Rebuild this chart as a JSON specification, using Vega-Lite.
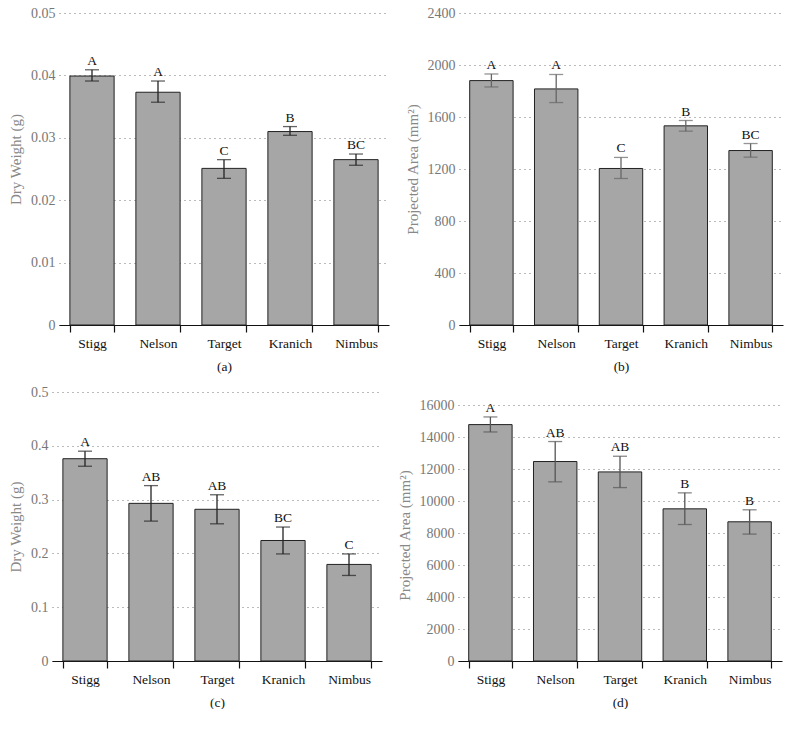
{
  "$schema": "https://vega.github.io/schema/vega-lite/v6.json",
  "padding": {"left": 7, "top": 6, "right": 8, "bottom": 0},
  "columns": 1,
  "align": "none",
  "spacing": 12,
  "config": {
    "view": {"stroke": null},
    "font": "Liberation Serif",
    "text": {"font": "Liberation Serif"},
    "axisY": {
      "domain": false, "ticks": false, "grid": true, "gridDash": [1, 4], "gridColor": "#777", "gridWidth": 1,
      "labelFont": "Liberation Serif", "labelFontSize": 14, "labelColor": "#777", "labelPadding": 4, "labelOverlap": false, "tickCount": 20,
      "titleFont": "Liberation Serif", "titleFontSize": 15, "titleColor": "#888", "titleFontWeight": "normal", "titlePadding": 7
    },
    "axisX": {
      "domainColor": "#111", "domainWidth": 1.2, "tickColor": "#111", "tickWidth": 1.2, "tickSize": 7, "tickBand": "extent",
      "labelFont": "Liberation Serif", "labelFontSize": 13.5, "labelColor": "#111", "labelPadding": 4, "labelAngle": 0,
      "titleFont": "Liberation Serif", "titleFontSize": 13.5, "titleColor": "#111", "titleFontWeight": "normal", "titlePadding": 10,
      "grid": false
    }
  },
  "concat": [
    {
      "spacing": 0,
      "hconcat": [
        {"width": 1, "height": 1, "data": {"values": []}, "mark": "point"},
        {
          "spacing": 16,
          "hconcat": [
            {
              "width": 330, "height": 312,
              "data": {"values": [
                {"cultivar": "Stigg", "mean": 0.0399, "lo": 0.0391, "hi": 0.0409, "letter": "A"},
                {"cultivar": "Nelson", "mean": 0.0373, "lo": 0.0357, "hi": 0.0391, "letter": "A"},
                {"cultivar": "Target", "mean": 0.0251, "lo": 0.0235, "hi": 0.0265, "letter": "C"},
                {"cultivar": "Kranich", "mean": 0.0310, "lo": 0.0304, "hi": 0.0318, "letter": "B"},
                {"cultivar": "Nimbus", "mean": 0.0265, "lo": 0.0256, "hi": 0.0274, "letter": "BC"}
              ]},
              "encoding": {"x": {"field": "cultivar", "type": "nominal", "sort": null,
                "scale": {"paddingInner": 0.33, "paddingOuter": 0.165}, "axis": {"title": "(a)"}}},
              "layer": [
                {"mark": {"type": "bar", "fill": "#a6a6a6", "stroke": "#222", "strokeWidth": 1},
                 "encoding": {"y": {"field": "mean", "type": "quantitative", "scale": {"domain": [0, 0.05]},
                   "axis": {"title": "Dry Weight (g)", "titleY": 146, "values": [0, 0.01, 0.02, 0.03, 0.04, 0.05], "format": "~g"}}}},
                {"mark": {"type": "rule", "color": "#222", "strokeWidth": 1.3},
                 "encoding": {"y": {"field": "lo", "type": "quantitative"}, "y2": {"field": "hi"}}},
                {"mark": {"type": "tick", "color": "#222", "size": 14, "thickness": 1.3},
                 "encoding": {"y": {"field": "lo", "type": "quantitative"}}},
                {"mark": {"type": "tick", "color": "#222", "size": 14, "thickness": 1.3},
                 "encoding": {"y": {"field": "hi", "type": "quantitative"}}},
                {"mark": {"type": "text", "baseline": "bottom", "dy": -2, "fontSize": 13.5, "color": "#111"},
                 "encoding": {"y": {"field": "hi", "type": "quantitative"}, "text": {"field": "letter"}}}
              ]
            },
            {
              "width": 324, "height": 312,
              "data": {"values": [
                {"cultivar": "Stigg", "mean": 1880, "lo": 1831, "hi": 1931, "letter": "A"},
                {"cultivar": "Nelson", "mean": 1816, "lo": 1711, "hi": 1927, "letter": "A"},
                {"cultivar": "Target", "mean": 1204, "lo": 1127, "hi": 1289, "letter": "C"},
                {"cultivar": "Kranich", "mean": 1532, "lo": 1491, "hi": 1573, "letter": "B"},
                {"cultivar": "Nimbus", "mean": 1342, "lo": 1291, "hi": 1396, "letter": "BC"}
              ]},
              "encoding": {"x": {"field": "cultivar", "type": "nominal", "sort": null,
                "scale": {"paddingInner": 0.33, "paddingOuter": 0.165}, "axis": {"title": "(b)"}}},
              "layer": [
                {"mark": {"type": "bar", "fill": "#a6a6a6", "stroke": "#222", "strokeWidth": 1},
                 "encoding": {"y": {"field": "mean", "type": "quantitative", "scale": {"domain": [0, 2400]},
                   "axis": {"title": "Projected Area (mm²)", "values": [0, 400, 800, 1200, 1600, 2000, 2400], "format": "d"}}}},
                {"mark": {"type": "rule", "color": "#666", "strokeWidth": 1.3},
                 "encoding": {"y": {"field": "lo", "type": "quantitative"}, "y2": {"field": "hi"}}},
                {"mark": {"type": "tick", "color": "#666", "size": 14, "thickness": 1.3},
                 "encoding": {"y": {"field": "lo", "type": "quantitative"}}},
                {"mark": {"type": "tick", "color": "#666", "size": 14, "thickness": 1.3},
                 "encoding": {"y": {"field": "hi", "type": "quantitative"}}},
                {"mark": {"type": "text", "baseline": "bottom", "dy": -2, "fontSize": 13.5, "color": "#111"},
                 "encoding": {"y": {"field": "hi", "type": "quantitative"}, "text": {"field": "letter"}}}
              ]
            }
          ]
        }
      ]
    },
    {
      "spacing": 0,
      "hconcat": [
        {"width": 1, "height": 1, "data": {"values": []}, "mark": "point"},
        {
          "spacing": 15,
          "hconcat": [
            {
              "width": 330, "height": 269,
              "data": {"values": [
                {"cultivar": "Stigg", "mean": 0.376, "lo": 0.362, "hi": 0.390, "letter": "A"},
                {"cultivar": "Nelson", "mean": 0.293, "lo": 0.260, "hi": 0.326, "letter": "AB"},
                {"cultivar": "Target", "mean": 0.282, "lo": 0.255, "hi": 0.309, "letter": "AB"},
                {"cultivar": "Kranich", "mean": 0.224, "lo": 0.199, "hi": 0.249, "letter": "BC"},
                {"cultivar": "Nimbus", "mean": 0.1795, "lo": 0.159, "hi": 0.199, "letter": "C"}
              ]},
              "encoding": {"x": {"field": "cultivar", "type": "nominal", "sort": null,
                "scale": {"paddingInner": 0.33, "paddingOuter": 0.165}, "axis": {"title": "(c)"}}},
              "layer": [
                {"mark": {"type": "bar", "fill": "#a6a6a6", "stroke": "#222", "strokeWidth": 1},
                 "encoding": {"y": {"field": "mean", "type": "quantitative", "scale": {"domain": [0, 0.5]},
                   "axis": {"title": "Dry Weight (g)", "values": [0, 0.1, 0.2, 0.3, 0.4, 0.5], "format": "~g"}}}},
                {"mark": {"type": "rule", "color": "#222", "strokeWidth": 1.3},
                 "encoding": {"y": {"field": "lo", "type": "quantitative"}, "y2": {"field": "hi"}}},
                {"mark": {"type": "tick", "color": "#222", "size": 14, "thickness": 1.3},
                 "encoding": {"y": {"field": "lo", "type": "quantitative"}}},
                {"mark": {"type": "tick", "color": "#222", "size": 14, "thickness": 1.3},
                 "encoding": {"y": {"field": "hi", "type": "quantitative"}}},
                {"mark": {"type": "text", "baseline": "bottom", "dy": -2, "fontSize": 13.5, "color": "#111"},
                 "encoding": {"y": {"field": "hi", "type": "quantitative"}, "text": {"field": "letter"}}}
              ]
            },
            {
              "width": 324, "height": 269,
              "data": {"values": [
                {"cultivar": "Stigg", "mean": 14790, "lo": 14330, "hi": 15270, "letter": "A"},
                {"cultivar": "Nelson", "mean": 12480, "lo": 11210, "hi": 13730, "letter": "AB"},
                {"cultivar": "Target", "mean": 11830, "lo": 10850, "hi": 12810, "letter": "AB"},
                {"cultivar": "Kranich", "mean": 9520, "lo": 8540, "hi": 10520, "letter": "B"},
                {"cultivar": "Nimbus", "mean": 8710, "lo": 7940, "hi": 9460, "letter": "B"}
              ]},
              "encoding": {"x": {"field": "cultivar", "type": "nominal", "sort": null,
                "scale": {"paddingInner": 0.33, "paddingOuter": 0.165}, "axis": {"title": "(d)"}}},
              "layer": [
                {"mark": {"type": "bar", "fill": "#a6a6a6", "stroke": "#222", "strokeWidth": 1},
                 "encoding": {"y": {"field": "mean", "type": "quantitative", "scale": {"domain": [0, 16830], "nice": false},
                   "axis": {"title": "Projected Area (mm²)", "titleY": 143, "values": [0, 2000, 4000, 6000, 8000, 10000, 12000, 14000, 16000], "format": "d"}}}},
                {"mark": {"type": "rule", "color": "#555", "strokeWidth": 1.3},
                 "encoding": {"y": {"field": "lo", "type": "quantitative"}, "y2": {"field": "hi"}}},
                {"mark": {"type": "tick", "color": "#555", "size": 14, "thickness": 1.3},
                 "encoding": {"y": {"field": "lo", "type": "quantitative"}}},
                {"mark": {"type": "tick", "color": "#555", "size": 14, "thickness": 1.3},
                 "encoding": {"y": {"field": "hi", "type": "quantitative"}}},
                {"mark": {"type": "text", "baseline": "bottom", "dy": -2, "fontSize": 13.5, "color": "#111"},
                 "encoding": {"y": {"field": "hi", "type": "quantitative"}, "text": {"field": "letter"}}}
              ]
            }
          ]
        }
      ]
    }
  ]
}
